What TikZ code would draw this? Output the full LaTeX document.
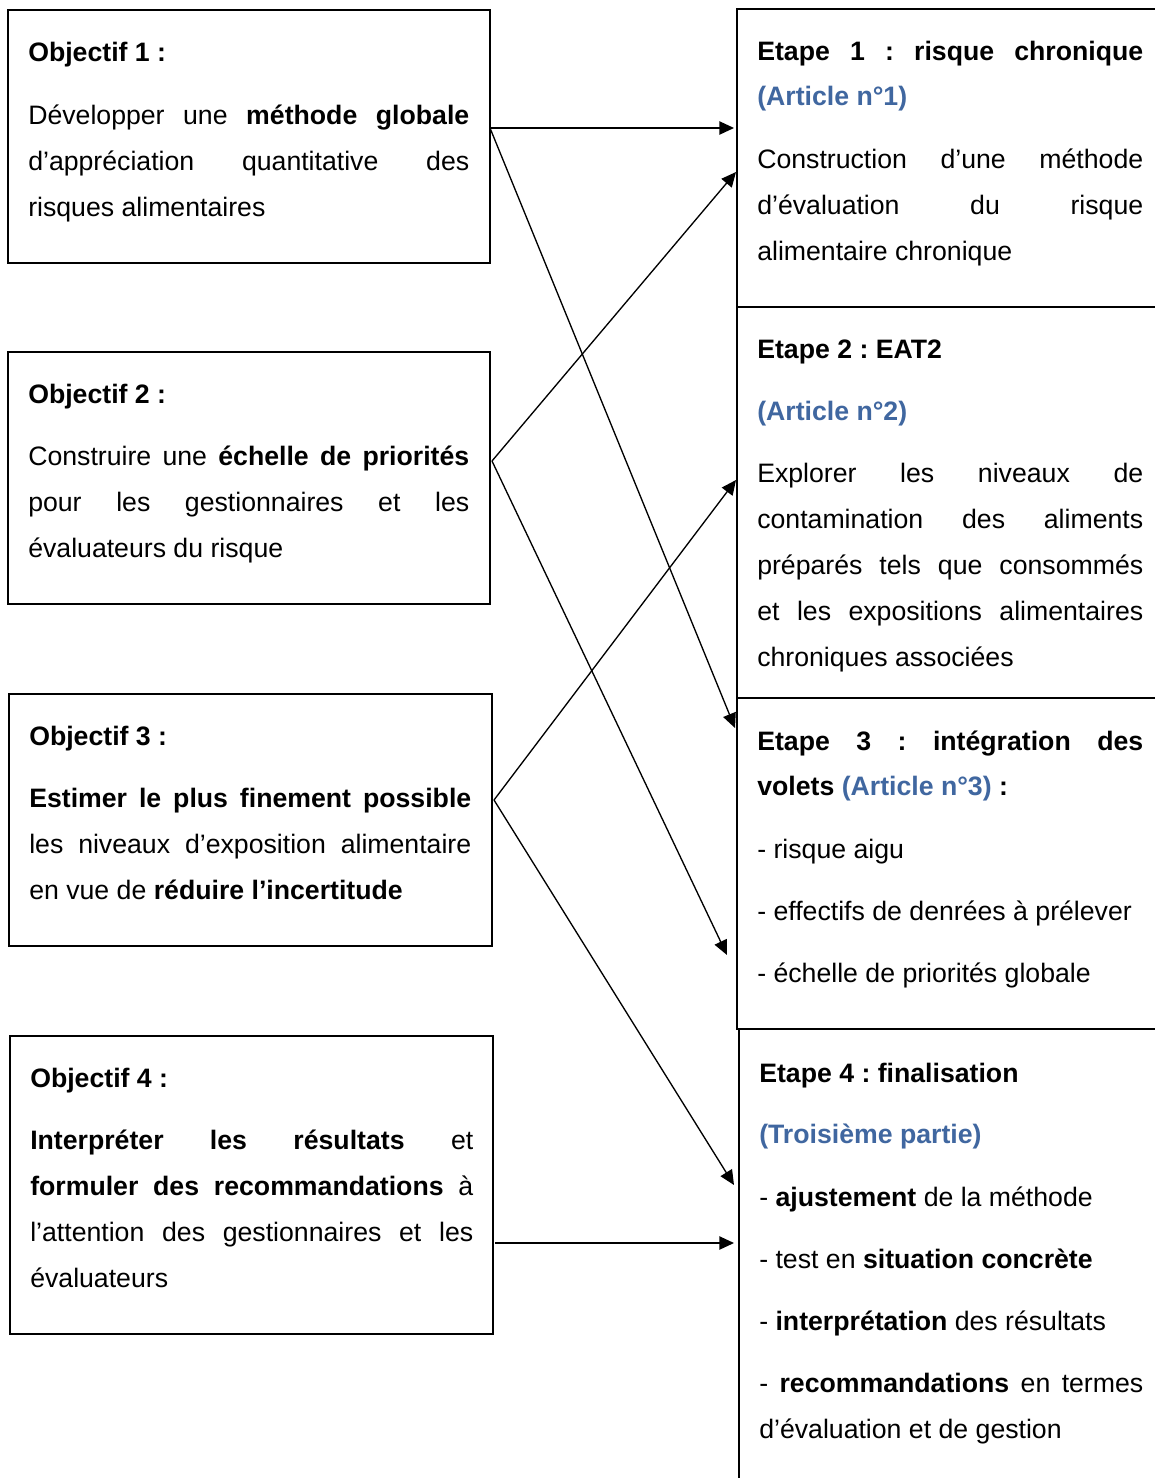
\documentclass[tikz,border=0pt]{standalone}
\usepackage{fontspec}
\setmainfont{Liberation Sans}
\usetikzlibrary{arrows.meta,fit}
\definecolor{artblue}{RGB}{64,103,160}
\newcommand{\jl}[2]{\makebox[#1][s]{#2}}
\frenchspacing
\begin{document}
\begin{tikzpicture}[x=0.75pt,y=-0.75pt,
  box/.style={draw,line width=1.2pt,inner sep=0pt},
  txt/.style={anchor=base west,inner sep=0pt,font=\fontsize{20}{24}\selectfont\frenchspacing},
  conn/.style={line width=1pt,-{Triangle[length=11pt,width=10pt]}}]
\useasboundingbox[fill=white] (0,0) rectangle (1155,1478);
% left boxes
\node[box,fit={(8,10) (490,263)}] (o1) {};
\node[box,fit={(8,352) (490,604)}] (o2) {};
\node[box,fit={(9,694) (492,946)}] (o3) {};
\node[box,fit={(10,1036) (493,1334)}] (o4) {};
% right boxes
\node[box,fit={(737,9) (1170,307)}] (e1) {};
\node[box,fit={(737,307) (1170,698)}] (e2) {};
\node[box,fit={(737,698) (1170,1029)}] (e3) {};
\node[box,fit={(739,1029) (1170,1500)}] (e4) {};
% Objectif 1
\node[txt] (o1a) at (28,61) {\textbf{Objectif 1 :}};
\node[txt] (o1b) at (28,124) {\jl{330.75pt}{Développer une \textbf{méthode globale}}};
\node[txt] (o1c) at (28,170) {\jl{330.75pt}{d’appréciation quantitative des}};
\node[txt] (o1d) at (28,216) {risques alimentaires};
% Objectif 2
\node[txt] (o2a) at (28,403) {\textbf{Objectif 2 :}};
\node[txt] (o2b) at (28,465) {\jl{330.75pt}{Construire une \textbf{échelle de priorités}}};
\node[txt] (o2c) at (28,511) {\jl{330.75pt}{pour les gestionnaires et les}};
\node[txt] (o2d) at (28,557) {évaluateurs du risque};
% Objectif 3
\node[txt] (o3a) at (29,745) {\textbf{Objectif 3 :}};
\node[txt] (o3b) at (29,807) {\jl{331.5pt}{\textbf{Estimer le plus finement possible}}};
\node[txt] (o3c) at (29,853) {\jl{331.5pt}{les niveaux d’exposition alimentaire}};
\node[txt] (o3d) at (29,899) {en vue de \textbf{réduire l’incertitude}};
% Objectif 4
\node[txt] (o4a) at (30,1087) {\textbf{Objectif 4 :}};
\node[txt] (o4b) at (30,1149) {\jl{332.25pt}{\textbf{Interpréter les résultats} et}};
\node[txt] (o4c) at (30,1195) {\jl{332.25pt}{\textbf{formuler des recommandations} à}};
\node[txt] (o4d) at (30,1241) {\jl{332.25pt}{l’attention des gestionnaires et les}};
\node[txt] (o4e) at (30,1287) {évaluateurs};
% Etape 1
\node[txt] (e1a) at (757,60) {\jl{289.5pt}{\textbf{Etape 1 : risque chronique}}};
\node[txt] (e1b) at (757,105) {\textbf{\color{artblue}(Article n°1)}};
\node[txt] (e1c) at (757,168) {\jl{289.5pt}{Construction d’une méthode}};
\node[txt] (e1d) at (757,214) {\jl{289.5pt}{d’évaluation du risque}};
\node[txt] (e1e) at (757,260) {alimentaire chronique};
% Etape 2
\node[txt] (e2a) at (757,358) {\textbf{Etape 2 : EAT2}};
\node[txt] (e2b) at (757,420) {\textbf{\color{artblue}(Article n°2)}};
\node[txt] (e2c) at (757,482) {\jl{289.5pt}{Explorer les niveaux de}};
\node[txt] (e2d) at (757,528) {\jl{289.5pt}{contamination des aliments}};
\node[txt] (e2e) at (757,574) {\jl{289.5pt}{préparés tels que consommés}};
\node[txt] (e2f) at (757,620) {\jl{289.5pt}{et les expositions alimentaires}};
\node[txt] (e2g) at (757,666) {chroniques associées};
% Etape 3
\node[txt] (e3a) at (757,750) {\jl{289.5pt}{\textbf{Etape 3 : intégration des}}};
\node[txt] (e3b) at (757,795) {\textbf{volets {\color{artblue}(Article n°3)} :}};
\node[txt] (e3c) at (757,858) {- risque aigu};
\node[txt] (e3d) at (757,920) {- effectifs de denrées à prélever};
\node[txt] (e3e) at (757,982) {- échelle de priorités globale};
% Etape 4
\node[txt] (e4a) at (759,1082) {\textbf{Etape 4 : finalisation}};
\node[txt] (e4b) at (759,1143) {\textbf{\color{artblue}(Troisième partie)}};
\node[txt] (e4c) at (759,1206) {- \textbf{ajustement} de la méthode};
\node[txt] (e4d) at (759,1268) {- test en \textbf{situation concrète}};
\node[txt] (e4e) at (759,1330) {- \textbf{interprétation} des résultats};
\node[txt] (e4f) at (759,1392) {\jl{288pt}{- \textbf{recommandations} en termes}};
\node[txt] (e4g) at (759,1438) {d’évaluation et de gestion};
% connector points
\coordinate (s1) at (490,128);
\coordinate (s2) at (492,461);
\coordinate (s3) at (494,800);
\coordinate (s4) at (495,1243);
\coordinate (t1a) at (734,128);
\coordinate (t1b) at (735,728);
\coordinate (t2a) at (736,172);
\coordinate (t2b) at (727,955);
\coordinate (t3a) at (736,480);
\coordinate (t3b) at (734,1185);
\coordinate (t4a) at (734,1243);
\draw[conn] (s1) -- (t1a);
\draw[conn] (s1) -- (t1b);
\draw[conn] (s2) -- (t2a);
\draw[conn] (s2) -- (t2b);
\draw[conn] (s3) -- (t3a);
\draw[conn] (s3) -- (t3b);
\draw[conn] (s4) -- (t4a);
\end{tikzpicture}
\end{document}
